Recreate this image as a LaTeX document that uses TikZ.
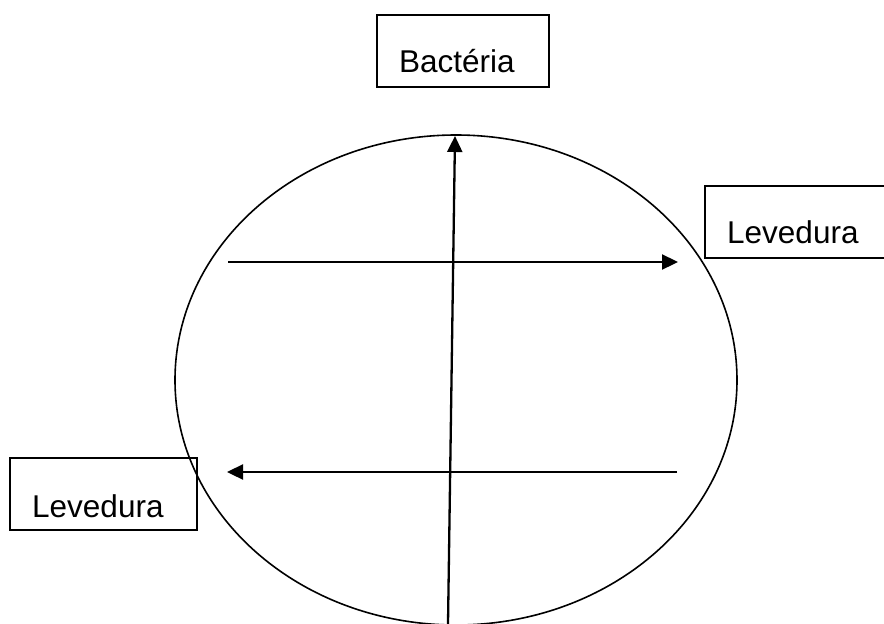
\documentclass[tikz,border=0pt]{standalone}
\usepackage{fontspec}
\setmainfont{Liberation Sans}
\usetikzlibrary{arrows.meta}
\begin{document}
\begin{tikzpicture}[x=1pt,y=-1pt,
  boxline/.style={draw, line width=1.7pt, inner sep=0pt, minimum height=72pt},
  lbl/.style={font=\fontsize{31.5}{36}\selectfont, inner sep=0pt, anchor=base west},
  arr/.style={line width=2.3pt, -{Triangle[length=16pt,width=15pt]}},
  ring/.style={line width=1.6pt}
]
\useasboundingbox (0,0) rectangle (884,624);
\clip (0,0) rectangle (884,624);
% ellipse
\draw[ring] (456,380) ellipse [x radius=281, y radius=245];
% boxes
\node[boxline, minimum width=172pt] (bbox) at (463,51) {};
\node[boxline, minimum width=187pt] (rbox) at (798.5,222) {};
\node[boxline, minimum width=187pt] (lbox) at (103.5,494) {};
% labels
\node[lbl] (tb) at (399,72) {Bactéria};
\node[lbl] (tr) at (727,243) {Levedura};
\node[lbl] (tl) at (32,517) {Levedura};
% arrow end points
\coordinate (vs) at (448,624);
\coordinate (ve) at (455,136);
\coordinate (hs) at (228,262);
\coordinate (he) at (678,262);
\coordinate (ls) at (677,472);
\coordinate (le) at (227,472);
\draw[arr] (vs) -- (ve);
\draw[arr] (hs) -- (he);
\draw[arr] (ls) -- (le);
\end{tikzpicture}
\end{document}
